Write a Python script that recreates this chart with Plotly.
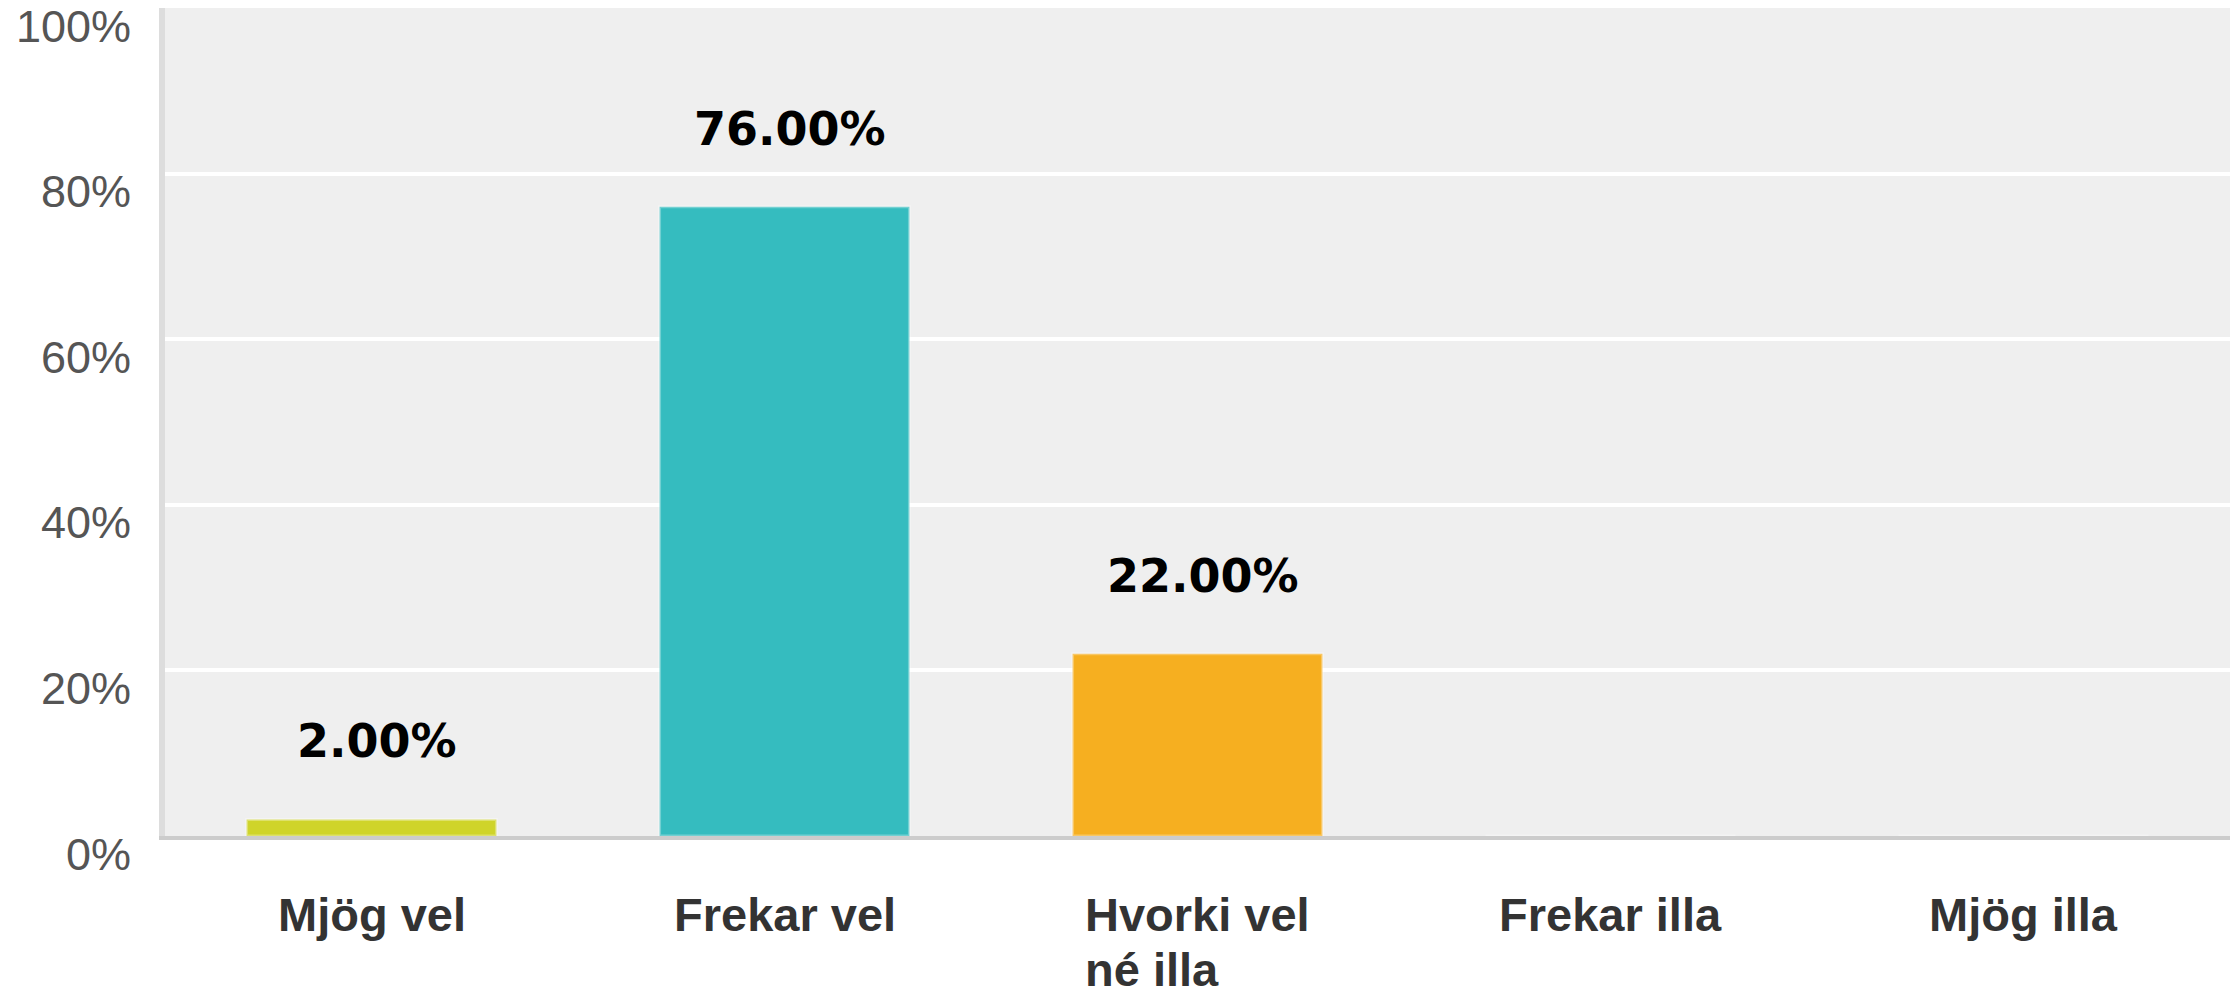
import plotly.graph_objects as go

categories = ["Mjög vel", "Frekar vel", "Hvorki vel<br>né illa", "Frekar illa", "Mjög illa"]
values = [2.0, 76.0, 22.0, 0.0, 0.0]
bar_colors = ["#cfd42a", "#35bcbf", "#f6af20", "#8c6bb1", "#e0567a"]
y_ticks = [0, 20, 40, 60, 80, 100]
y_tick_labels = ["0%", "20%", "40%", "60%", "80%", "100%"]

W, H = 2237, 986
fig = go.Figure()
fig.add_trace(go.Bar(
    x=list(range(len(categories))),
    y=values,
    width=0.605,
    marker=dict(color=bar_colors, line=dict(color="rgba(255,255,255,0.3)", width=3)),
    hoverinfo="skip",
))

annotations = []
# data labels
for i, v in enumerate(values):
    if v > 0:
        annotations.append(dict(
            x=i, y=v, xref="x", yref="y", text=f"{v:.2f}%", showarrow=False,
            yanchor="middle", yshift=78, xshift=5,
            font=dict(family="DejaVu Sans", size=46, color="#000000", weight="bold"),
        ))
# category labels (line spacing from 42px base font, glyphs drawn at 47px)
for i, c in enumerate(categories):
    txt = "<br>".join(f"<span style='font-size:47px'>{ln}</span>" for ln in c.split("<br>"))
    annotations.append(dict(
        x=i, y=0, xref="x", yref="paper", text=txt, showarrow=False,
        yanchor="top", yshift=-50, align="left",
        font=dict(family="Liberation Sans", size=42, color="#333333", weight="bold"),
    ))
# y tick labels
for t, lab in zip(y_ticks, y_tick_labels):
    annotations.append(dict(
        x=0, y=t, xref="paper", yref="y", text=lab, showarrow=False,
        xanchor="right", yanchor="middle", xshift=-32, yshift=-18,
        font=dict(family="Liberation Sans", size=45, color="#555555"),
    ))

fig.update_layout(
    width=W, height=H,
    margin=dict(l=165, r=7, t=8, b=150, autoexpand=False),
    paper_bgcolor="#ffffff",
    plot_bgcolor="#efefef",
    showlegend=False,
    annotations=annotations,
    bargap=0.4,
)
fig.update_xaxes(
    range=[-0.5, 4.5], showticklabels=False, showgrid=False, zeroline=False,
    showline=True, linecolor="#cccccc", linewidth=4, ticks="", fixedrange=True,
)
fig.update_yaxes(
    range=[0, 100], tickvals=y_ticks, showticklabels=False,
    showgrid=True, gridcolor="#ffffff", gridwidth=4, zeroline=False,
    showline=True, linecolor="#dddddd", linewidth=6, ticks="", fixedrange=True,
)

fig.write_html(
    "out.html",
    config={"displayModeBar": False},
    post_script="document.body.style.margin='0';document.body.style.overflow='hidden';",
)
